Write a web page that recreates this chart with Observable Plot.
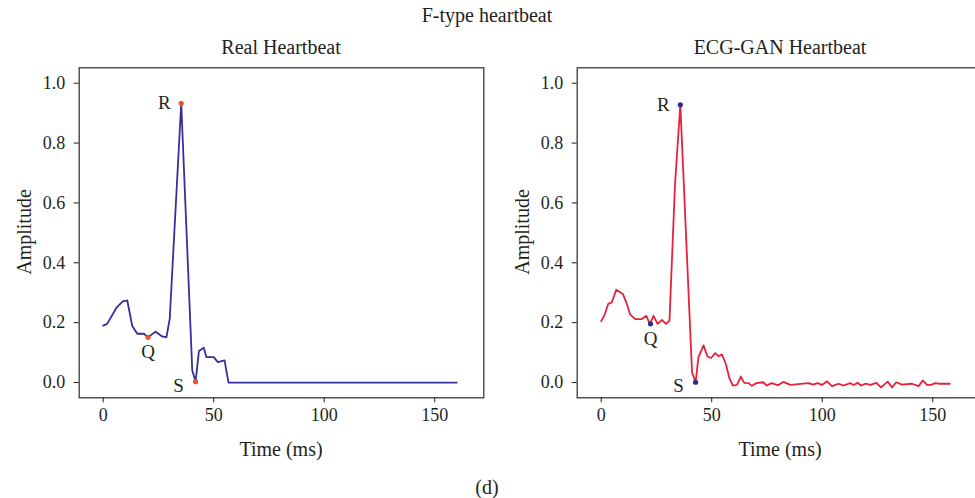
<!DOCTYPE html>
<html><head><meta charset="utf-8">
<script src="https://cdn.jsdelivr.net/npm/d3@7"></script>
<script src="https://cdn.jsdelivr.net/npm/@observablehq/plot@0.6"></script>
<style>
body{margin:0;background:#fff;}
#wrap{position:relative;width:975px;height:498px;overflow:hidden;background:#fff;font-family:"Liberation Serif",serif;color:#231f20;}
.lbl{position:absolute;white-space:nowrap;transform:translate(-50%,-50%);font-size:20px;line-height:1;}
.rot{transform:translate(-50%,-50%) rotate(-90deg);}
.panel{position:absolute;top:0;width:490px;height:498px;}
.panel svg{max-width:none !important;}
</style></head><body>
<div id="wrap">
  <div id="left" class="panel" style="left:0px"></div>
  <div id="right" class="panel" style="left:498.3px"></div>
  <div class="lbl" style="left:487px;top:15px">F-type heartbeat</div>
  <div class="lbl" style="left:281px;top:47px">Real Heartbeat</div>
  <div class="lbl" style="left:780px;top:47px">ECG-GAN Heartbeat</div>
  <div class="lbl" style="left:281px;top:449px">Time (ms)</div>
  <div class="lbl" style="left:780px;top:449px">Time (ms)</div>
  <div class="lbl rot" style="left:24px;top:232px">Amplitude</div>
  <div class="lbl rot" style="left:522px;top:232px">Amplitude</div>
  <div class="lbl" style="left:487px;top:487px">(d)</div>
</div>
<script>
const xTicks = [0, 50, 100, 150];
const yTicks = [0, 0.2, 0.4, 0.6, 0.8, 1.0];

const realTime = [0, 1.8, 6, 9, 10.9, 13.1, 15.4, 18.4, 20.3, 23.7, 26.7, 28.6, 30.1, 35.3, 40.3, 41.8, 43.3, 45.5, 46.7, 50, 51.9, 54.9, 56.7, 160];
const realAmp  = [0.19, 0.196, 0.25, 0.272, 0.274, 0.19, 0.163, 0.163, 0.151, 0.17, 0.154, 0.151, 0.213, 0.933, 0.04, 0.003, 0.105, 0.116, 0.085, 0.085, 0.068, 0.074, 0.0, 0.0];
const realPeakLabel = ["Q", "R", "S"];
const realPeakTime = [20.3, 35.3, 41.8];
const realPeakAmp = [0.151, 0.933, 0.003];

const ganTime = [0, 1.4, 3.2, 4.8, 6.8, 9.8, 11.6, 13.1, 15.4, 18.4, 20.4, 22.0, 23.7, 25.5, 27.5, 29.3, 30.9, 33.4, 35.8, 41.1, 42.7, 44.0, 46.3, 48.1, 49.7, 51.6, 53.1, 54.6, 56.4, 58.1, 59.6, 61.4, 63.2, 64.7, 66.7, 68.2, 70.2, 73.2, 75.0, 77.0, 80.0, 82.3, 85.6, 93.8, 95.8, 97.9, 99.9, 102.2, 104.4, 107.4, 109.7, 112.7, 114.2, 116.0, 117.6, 119.5, 121.8, 124.5, 126.6, 129.6, 131.6, 133.5, 136.1, 140.6, 143.6, 145.5, 147.4, 149.2, 151.2, 152.7, 157.7];
const ganAmp = [0.205, 0.224, 0.263, 0.268, 0.31, 0.296, 0.263, 0.227, 0.212, 0.212, 0.223, 0.196, 0.223, 0.196, 0.209, 0.196, 0.207, 0.664, 0.928, 0.034, 0.001, 0.085, 0.124, 0.087, 0.082, 0.098, 0.088, 0.094, 0.062, 0.012, -0.010, -0.008, 0.020, -0.001, -0.002, -0.011, -0.002, 0.001, -0.010, -0.002, -0.009, 0.002, -0.008, -0.002, -0.007, -0.002, -0.008, 0.004, -0.012, -0.004, -0.010, -0.002, -0.008, -0.001, -0.010, -0.004, -0.008, -0.001, -0.016, 0.003, -0.016, 0.001, -0.007, -0.004, -0.012, 0.007, -0.008, -0.008, -0.002, -0.004, -0.004];
const ganPeakLabel = ["Q", "R", "S"];
const ganPeakTime = [22.3, 35.8, 42.7];
const ganPeakAmp = [0.196, 0.928, 0.001];

function panel(time, amp, pLab, pTime, pAmp, lineColor, dotColor) {
  const data = time.map((t, i) => ({t, a: amp[i]}));
  const peaks = pLab.map((l, i) => ({l, t: pTime[i], a: pAmp[i]}));
  const pick = (l) => peaks.filter(p => p.l === l);
  const txt = {x: "t", y: "a", text: "l", fill: "#231f20", fontSize: 19};
  return Plot.plot({
    width: 490, height: 498,
    marginLeft: 78.7, marginTop: 67.3, marginRight: 6.7, marginBottom: 100.7,
    x: {domain: [-10.86, 172.2]},
    y: {domain: [-0.051, 1.0515]},
    style: {fontFamily: "Liberation Serif", fontSize: "18px", color: "#231f20", background: "transparent", overflow: "visible", maxWidth: "none"},
    marks: [
      Plot.frame({stroke: "#3a3a3a", strokeWidth: 1.3}),
      Plot.axisX({ticks: xTicks, tickSize: 5, tickPadding: 5, label: null}),
      Plot.axisY({ticks: yTicks, tickSize: 5, tickPadding: 9, tickFormat: d3.format(".1f"), label: null}),
      Plot.line(data, {x: "t", y: "a", stroke: lineColor, strokeWidth: 1.8}),
      Plot.dot(peaks, {x: "t", y: "a", r: 2.6, fill: dotColor}),
      Plot.text(pick("R"), {...txt, dx: -17}),
      Plot.text(pick("Q"), {...txt, dy: 15}),
      Plot.text(pick("S"), {...txt, dx: -17, dy: 4})
    ]
  });
}

document.getElementById("left").append(panel(realTime, realAmp, realPeakLabel, realPeakTime, realPeakAmp, "#35309a", "#f0502a"));
document.getElementById("right").append(panel(ganTime, ganAmp, ganPeakLabel, ganPeakTime, ganPeakAmp, "#e8203c", "#2e2a88"));
</script>
</body></html>
